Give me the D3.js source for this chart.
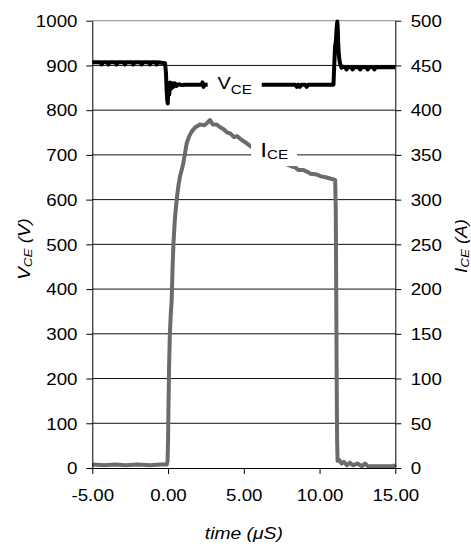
<!DOCTYPE html>
<html>
<head>
<meta charset="utf-8">
<script src="https://cdn.jsdelivr.net/npm/d3@7"></script>
<style>
  body { margin: 0; background: #fff; }
  text { font-family: "Liberation Sans", Arial, sans-serif; fill: #000; }
</style>
</head>
<body>
<div id="chart"></div>
<script>
let width = 471
let height = 546
let plot = { left: 92.3, right: 395.3, top: 20.7, bottom: 468 }
let stretch = 1.17   // the original type is a little wider than Arial

// axis ticks
let timeTicks = [-5, 0, 5, 10, 15]
let voltTicks = [0, 100, 200, 300, 400, 500, 600, 700, 800, 900, 1000]
let ampTicks = [0, 50, 100, 150, 200, 250, 300, 350, 400, 450, 500]

// V_CE trace (left axis, volts)
let vceTime = [
  -5,
  -4.45, -4.38, -4.31, -4.0, -3.94, -3.87, -3.46, -3.39, -3.32,
  -2.91, -2.84, -2.77, -2.36, -2.29, -2.22, -1.81, -1.74, -1.67,
  -1.26, -1.19, -1.12, -0.82, -0.75, -0.68,
  -0.2, -0.14, -0.1, -0.06, -0.02, 0.03, 0.08, 0.13, 0.2, 0.28, 0.36, 0.45, 0.55, 0.7, 0.9, 1.2,
  2.2, 2.28, 2.34, 2.4,
  8.4, 8.5, 8.6, 8.7, 8.8,
  9.05, 9.15, 9.25,
  10.92, 10.97, 11.02, 11.08, 11.13, 11.17, 11.2, 11.23, 11.27, 11.32, 11.38, 11.45, 11.55,
  11.7, 11.78, 11.86, 12.1, 12.18, 12.26, 12.6, 12.68, 12.76,
  13.1, 13.18, 13.26, 13.55, 13.62, 13.7,
  15
]
let vceVolt = [
  907,
  907, 902, 907, 907, 902, 907, 907, 902, 907,
  907, 902, 907, 907, 902, 907, 907, 902, 907,
  907, 902, 907, 907, 902, 907,
  905, 885, 850, 825, 815, 855, 835, 862, 848, 860, 852, 860, 854, 858, 856, 857,
  857, 862, 852, 857,
  857, 852, 857, 852, 857,
  857, 852, 857,
  857, 900, 940, 955, 985, 998, 985, 950, 925, 910, 900, 895, 897,
  896, 891, 896, 896, 891, 896, 896, 891, 896,
  896, 891, 896, 896, 891, 896,
  896
]

// I_CE trace (right axis, amps)
let iceTime = [
  -5, -4.2, -3.5, -2.8, -2, -1.2, -0.5, -0.08,
  -0.03, 0.0, 0.03, 0.07, 0.12, 0.18, 0.24, 0.3, 0.36, 0.45, 0.57, 0.68, 0.79, 0.9,
  1.01, 1.12, 1.23, 1.4, 1.56, 1.8, 2.11, 2.4, 2.6, 2.77, 2.95, 3.2, 3.43, 3.65,
  3.9, 4.1, 4.35, 4.55, 4.76, 5.1, 5.42,
  6.5, 7.5,
  8.17, 8.4, 8.6, 8.94, 9.2, 9.4, 9.82, 10.1, 10.4, 10.81, 11.03,
  11.07, 11.1, 11.13, 11.16, 11.19,
  11.3, 11.45, 11.6, 11.8, 12.0, 12.2, 12.5, 12.8, 13.0, 13.2, 14, 14.9, 15
]
let iceAmp = [
  4, 3, 4, 3, 4, 3, 4, 4,
  8, 30, 70, 115, 150, 172, 188, 225, 252, 278, 300, 315, 326, 333,
  341, 352, 363, 371, 376, 381, 384, 383, 386, 389, 384, 384, 381, 379,
  375, 374, 370, 371, 368, 364, 360,
  350, 342,
  337, 336, 333, 333, 331, 329, 328, 326, 325, 323, 322,
  290, 200, 100, 30, 8,
  9, 5, 7, 3, 6, 3, 5, 2, 5, 2, 2, 2, 4
]

// series labels: [time, value on own axis]
let vceLabelAt = [4.4, 855]
let iceLabelAt = [7.0, 351]

let vceData = vceTime.map((t, i) => [t, vceVolt[i]])
let iceData = iceTime.map((t, i) => [t, iceAmp[i]])

let x = d3.scaleLinear().domain([-5, 15]).range([plot.left, plot.right])
let yV = d3.scaleLinear().domain([0, 1000]).range([plot.bottom, plot.top])
let yA = d3.scaleLinear().domain([0, 500]).range([plot.bottom, plot.top])

let svg = d3.select('#chart')
  .append('svg')
  .attr('width', width)
  .attr('height', height)

// gridlines
svg.append('g')
  .selectAll('line')
  .data(voltTicks.filter(d => d > 0))
  .join('line')
  .attr('x1', plot.left)
  .attr('x2', plot.right)
  .attr('y1', d => yV(d))
  .attr('y2', d => yV(d))
  .attr('stroke', d => d == 1000 ? '#888' : '#111')
  .attr('stroke-width', 1)

// traces
svg.append('path')
  .datum(iceData)
  .attr('d', d3.line().x(d => x(d[0])).y(d => yA(d[1])))
  .attr('fill', 'none')
  .attr('stroke', '#6b6b6b')
  .attr('stroke-width', 4)
  .attr('stroke-linejoin', 'round')

svg.append('path')
  .datum(vceData)
  .attr('d', d3.line().x(d => x(d[0])).y(d => yV(d[1])))
  .attr('fill', 'none')
  .attr('stroke', '#000')
  .attr('stroke-width', 4)
  .attr('stroke-linejoin', 'round')

// in-plot labels with white boxes
function seriesLabel(cx, cy, boxW, boxH, main, sub, mainSize, subSize, subShift) {
  let g = svg.append('g')
  g.append('rect')
    .attr('x', cx - boxW / 2)
    .attr('y', cy - boxH / 2)
    .attr('width', boxW)
    .attr('height', boxH)
    .attr('fill', '#fff')
  let t = g.append('text')
    .attr('transform', `translate(${cx},${cy}) scale(${stretch},1)`)
    .attr('text-anchor', 'middle')
    .attr('y', 3.5)
  t.append('tspan').attr('font-size', mainSize).text(main)
  t.append('tspan').attr('font-size', subSize).attr('dy', subShift).text(sub)
}

seriesLabel(x(vceLabelAt[0]), yV(vceLabelAt[1]), 54, 24, 'V', 'CE', 17, 13, 5)
seriesLabel(x(iceLabelAt[0]), yA(iceLabelAt[1]), 46, 24, 'I', 'CE', 21, 13, 1.5)

// axes
function styleAxis(g, dx, anchor) {
  g.selectAll('.domain').attr('stroke', '#000')
  g.selectAll('.tick line').attr('stroke', '#000')
  g.selectAll('.tick text')
    .attr('font-size', 16)
    .attr('font-family', '"Liberation Sans", Arial, sans-serif')
    .attr('fill', '#000')
    .attr('x', null)
    .attr('dy', null)
    .attr('text-anchor', anchor)
    .attr('transform', `translate(${dx},0) scale(${stretch},1)`)
}

let timeFormat = d => d3.format('.2f')(d).replace('−', '-')

let xAxis = svg.append('g')
  .attr('transform', `translate(0,${plot.bottom})`)
  .call(d3.axisBottom(x).tickValues(timeTicks).tickFormat(timeFormat).tickSize(6).tickSizeOuter(0))
styleAxis(xAxis, 0, 'middle')
xAxis.selectAll('.tick text').attr('y', 33.5)

let leftAxis = svg.append('g')
  .attr('transform', `translate(${plot.left},0)`)
  .call(d3.axisLeft(yV).tickValues(voltTicks).tickFormat(d3.format('d')).tickSize(6).tickSizeOuter(0))
styleAxis(leftAxis, -14.8, 'end')
leftAxis.selectAll('.tick text').attr('y', 5.8)

let rightAxis = svg.append('g')
  .attr('transform', `translate(${plot.right},0)`)
  .call(d3.axisRight(yA).tickValues(ampTicks).tickFormat(d3.format('d')).tickSize(6).tickSizeOuter(0))
styleAxis(rightAxis, 15.4, 'start')
rightAxis.selectAll('.tick text').attr('y', 5.8)

// axis titles
svg.append('text')
  .attr('transform', `translate(${(plot.left + plot.right) / 2},538.5) scale(${stretch},1)`)
  .attr('text-anchor', 'middle')
  .attr('font-size', 16.5)
  .attr('font-style', 'italic')
  .text('time (μS)')

let leftTitle = svg.append('text')
  .attr('transform', `translate(30,249) rotate(-90) scale(${stretch},1)`)
  .attr('text-anchor', 'middle')
  .attr('font-size', 16)
  .attr('font-style', 'italic')
leftTitle.append('tspan').text('V')
leftTitle.append('tspan').attr('font-size', 11.5).attr('dy', 1.7).text('CE')
leftTitle.append('tspan').attr('dy', -1.7).text(' (V)')

let rightTitle = svg.append('text')
  .attr('transform', `translate(467,246) rotate(-90) scale(${stretch},1)`)
  .attr('text-anchor', 'middle')
  .attr('font-size', 16)
  .attr('font-style', 'italic')
rightTitle.append('tspan').text('I')
rightTitle.append('tspan').attr('font-size', 11.5).attr('dy', 1.7).text('CE')
rightTitle.append('tspan').attr('dy', -1.7).text(' (A)')
</script>
</body>
</html>
